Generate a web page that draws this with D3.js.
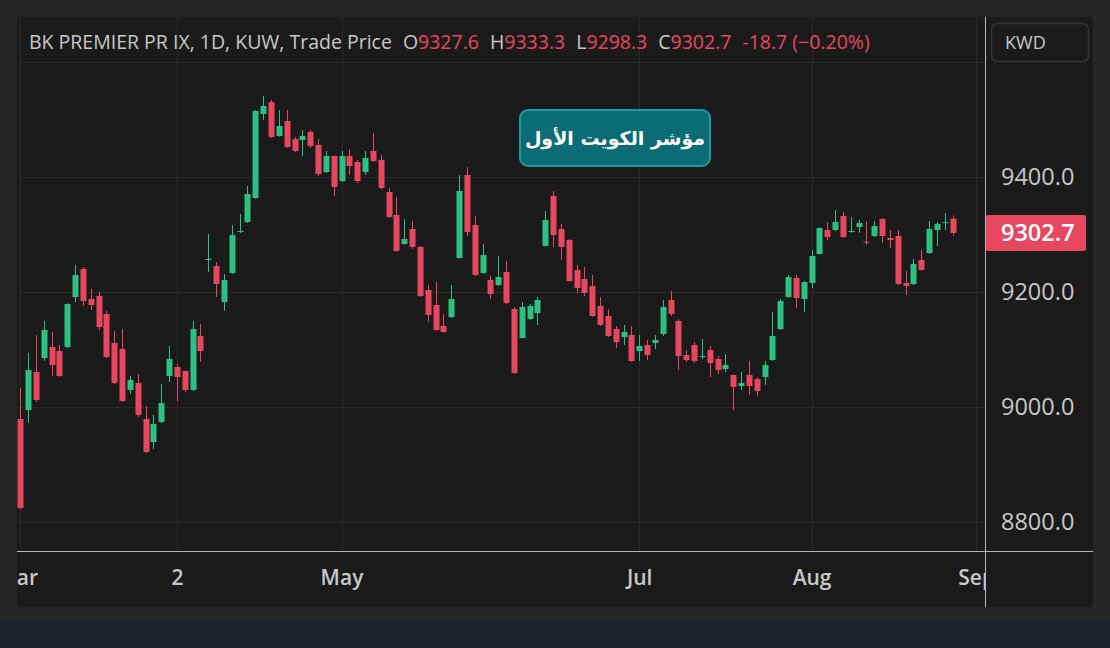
<!DOCTYPE html>
<html>
<head>
<meta charset="utf-8">
<script src="https://cdn.jsdelivr.net/npm/d3@7"></script>
<style>
  html, body { margin: 0; padding: 0; background: #262626; }
  svg { display: block; }
  text { font-family: "Open Sans", "DejaVu Sans", sans-serif; }
</style>
</head>
<body>
<svg id="chart" width="1110" height="648"></svg>
<script>
// daily candles (oldest first)
var opens = [
  8979.1, 8994.8, 9060.9, 9085.2, 9104.3, 9097.4, 9104.3, 9191.3, 9240.0, 9187.8,
  9193.0, 9161.7, 9111.3, 9100.9, 9029.6, 9041.7, 8979.1, 8939.1, 8973.9, 9053.9,
  9069.6, 9062.6, 9029.6, 9123.5, 9256.0, 9245.2, 9182.6, 9233.0, 9305.0, 9321.7,
  9363.5, 9509.6, 9530.4, 9471.3, 9497.4, 9466.1, 9464.3, 9478.3, 9455.7, 9408.7,
  9436.5, 9393.0, 9436.5, 9426.1, 9408.7, 9445.2, 9429.6, 9373.9, 9333.9, 9283.5,
  9309.6, 9278.3, 9203.5, 9177.4, 9140.9, 9156.5, 9259.1, 9403.5, 9316.5, 9233.0,
  9220.9, 9212.2, 9234.8, 9170.4, 9120.0, 9153.0, 9163.5, 9280.0, 9367.0, 9309.6,
  9290.4, 9238.3, 9222.6, 9210.4, 9175.7, 9158.3, 9135.7, 9121.7, 9125.2, 9097.4,
  9107.8, 9111.3, 9127.0, 9186.1, 9149.6, 9090.4, 9107.8, 9087.5, 9099.1, 9083.5,
  9066.1, 9055.7, 9036.5, 9055.7, 9048.7, 9052.2, 9081.7, 9135.7, 9191.3, 9224.3,
  9187.8, 9215.7, 9266.1, 9307.8, 9307.8, 9332.2, 9305.0, 9313.0, 9287.5, 9297.4,
  9327.0, 9293.9, 9297.4, 9215.7, 9213.9, 9255.7, 9267.8, 9307.8, 9320.6, 9327.6
];
var highs = [
  9033.0, 9093.9, 9125.2, 9149.6, 9130.4, 9107.8, 9180.5, 9247.0, 9243.5, 9205.2,
  9200.0, 9167.0, 9132.2, 9135.7, 9053.9, 9057.4, 9001.7, 8986.1, 9040.0, 9106.1,
  9074.8, 9063.5, 9149.6, 9144.3, 9300.9, 9252.2, 9231.3, 9316.5, 9335.7, 9384.3,
  9516.5, 9540.9, 9533.9, 9516.5, 9516.5, 9469.6, 9481.7, 9481.7, 9466.1, 9445.2,
  9437.5, 9445.2, 9448.7, 9429.6, 9445.2, 9476.5, 9438.3, 9380.9, 9365.2, 9327.0,
  9323.5, 9280.0, 9212.2, 9217.4, 9161.7, 9212.2, 9403.5, 9417.4, 9332.2, 9283.5,
  9227.8, 9262.6, 9253.9, 9173.9, 9182.6, 9179.1, 9191.3, 9340.9, 9375.7, 9318.3,
  9292.2, 9247.0, 9243.5, 9229.6, 9191.3, 9170.4, 9140.9, 9142.6, 9140.9, 9125.2,
  9116.5, 9125.2, 9186.1, 9201.7, 9153.0, 9099.1, 9113.0, 9118.3, 9106.1, 9088.7,
  9092.2, 9056.5, 9060.9, 9080.0, 9052.2, 9080.0, 9165.2, 9187.8, 9229.6, 9229.6,
  9219.1, 9273.0, 9312.5, 9321.7, 9342.6, 9339.1, 9330.4, 9325.2, 9323.5, 9323.5,
  9328.0, 9307.8, 9307.8, 9236.5, 9257.4, 9273.0, 9323.5, 9321.7, 9337.4, 9333.3
];
var lows = [
  8822.0, 8972.2, 9008.7, 9080.0, 9053.9, 9052.2, 9103.0, 9182.6, 9175.7, 9168.7,
  9133.9, 9085.5, 9040.0, 9008.7, 9022.6, 8982.6, 8920.0, 8926.9, 8972.0, 9043.5,
  9010.4, 9026.1, 9028.0, 9078.3, 9234.8, 9191.3, 9167.0, 9231.3, 9302.6, 9320.0,
  9362.0, 9499.1, 9468.0, 9470.0, 9450.5, 9443.5, 9436.5, 9450.4, 9401.7, 9407.0,
  9367.0, 9391.0, 9403.5, 9389.6, 9403.5, 9426.0, 9379.0, 9329.0, 9270.0, 9282.0,
  9274.8, 9191.3, 9147.8, 9132.0, 9129.0, 9155.0, 9258.0, 9297.4, 9228.0, 9232.0,
  9187.8, 9211.0, 9179.0, 9058.0, 9119.0, 9151.3, 9142.6, 9279.0, 9278.3, 9255.7,
  9218.0, 9198.3, 9193.0, 9157.0, 9141.0, 9122.0, 9102.6, 9107.8, 9079.0, 9080.0,
  9081.7, 9100.9, 9123.5, 9158.3, 9064.3, 9078.3, 9076.5, 9083.5, 9052.2, 9057.4,
  9060.9, 8994.8, 9029.6, 9020.9, 9019.1, 9038.3, 9080.0, 9134.0, 9190.0, 9172.2,
  9165.2, 9207.0, 9265.0, 9290.4, 9306.0, 9294.0, 9302.6, 9302.6, 9281.7, 9295.7,
  9285.2, 9276.5, 9212.0, 9194.8, 9212.0, 9237.0, 9266.0, 9280.0, 9307.8, 9298.3
];
var closes = [
  8824.3, 9064.3, 9012.2, 9133.9, 9073.0, 9053.9, 9179.1, 9229.6, 9184.3, 9177.4,
  9139.1, 9087.0, 9041.7, 9010.4, 9047.0, 8986.1, 8921.7, 8970.4, 9007.0, 9083.5,
  9052.2, 9029.6, 9135.7, 9097.4, 9257.4, 9213.9, 9220.9, 9299.1, 9306.1, 9370.4,
  9514.8, 9523.5, 9469.6, 9488.7, 9452.2, 9445.2, 9471.3, 9453.9, 9405.2, 9436.5,
  9382.6, 9436.5, 9419.1, 9393.0, 9433.0, 9427.8, 9380.9, 9330.4, 9271.3, 9292.2,
  9278.3, 9193.0, 9160.0, 9133.9, 9130.4, 9187.8, 9375.7, 9304.3, 9229.6, 9264.3,
  9196.5, 9226.1, 9180.9, 9059.1, 9173.9, 9175.7, 9186.1, 9325.2, 9299.1, 9278.3,
  9219.1, 9207.0, 9198.3, 9158.3, 9142.6, 9123.5, 9113.0, 9130.4, 9080.0, 9106.1,
  9090.4, 9116.5, 9173.9, 9161.7, 9088.7, 9081.7, 9080.0, 9088.7, 9076.5, 9064.3,
  9073.0, 9034.8, 9041.7, 9036.5, 9027.8, 9073.0, 9123.5, 9184.3, 9226.1, 9189.6,
  9217.4, 9262.6, 9311.3, 9295.7, 9321.7, 9295.7, 9306.1, 9320.0, 9286.9, 9314.8,
  9297.4, 9290.4, 9213.9, 9210.4, 9248.7, 9238.3, 9309.6, 9318.3, 9321.4, 9302.7
];

// time axis labels sit on bar indices (Sep falls after the last bar)
var timeTickIndex = [0, 20, 41, 79, 101, 122];
var timeTickLabels = ["Mar", "2", "May", "Jul", "Aug", "Sep"];
var priceTicks = [8800, 9000, 9200, 9400];
var priceGrid = [8800, 9000, 9200, 9400, 9600];

var title = "BK PREMIER PR IX, 1D, KUW, Trade Price";
var noteText = "مؤشر الكويت الأول";
var currency = "KWD";

var upColor = "#2dc084",
    downColor = "#e8485f",
    textColor = "#c8c8c8",
    gridColor = "#2a2a2a",
    paneBg = "#1b1b1b";

var svg = d3.select("#chart");
var pane = { left: 17, top: 17, right: 985, bottom: 551 };
var frame = { right: 1093, bottom: 607 };

var bars = opens.map(function(o, i) {
  return { i: i, o: o, h: highs[i], l: lows[i], c: closes[i] };
});
var last = bars[bars.length - 1];
var prev = bars[bars.length - 2];

var x = d3.scaleLinear().domain([0, bars.length - 1]).range([20.3, 952.6]);
var y = d3.scaleLinear().domain([8800, 9400]).range([522, 177]);

// background layers
svg.append("rect").attr("width", 1110).attr("height", 648).attr("fill", "#262626");
svg.append("rect").attr("y", 622).attr("width", 1110).attr("height", 26).attr("fill", "#1e222d");
svg.append("rect")
  .attr("x", 16).attr("y", 16)
  .attr("width", frame.right - 16 + 1).attr("height", frame.bottom - 16 + 1)
  .attr("fill", paneBg).attr("stroke", "#2e2e2e");

svg.append("clipPath").attr("id", "paneClip")
  .append("rect")
  .attr("x", pane.left).attr("y", pane.top)
  .attr("width", pane.right - pane.left).attr("height", pane.bottom - pane.top);

var plot = svg.append("g").attr("clip-path", "url(#paneClip)");

// grid
plot.selectAll(".hgrid").data(priceGrid).enter().append("line")
  .attr("x1", pane.left).attr("x2", pane.right)
  .attr("y1", function(d) { return Math.round(y(d)) + 0.5; })
  .attr("y2", function(d) { return Math.round(y(d)) + 0.5; })
  .attr("stroke", gridColor);
plot.selectAll(".vgrid").data(timeTickIndex).enter().append("line")
  .attr("y1", pane.top).attr("y2", pane.bottom)
  .attr("x1", function(d) { return Math.round(x(d)) + 0.5; })
  .attr("x2", function(d) { return Math.round(x(d)) + 0.5; })
  .attr("stroke", gridColor);

// candles
var bw = 6;
var candle = plot.selectAll(".candle").data(bars).enter().append("g")
  .attr("fill", function(d) { return d.c >= d.o ? upColor : downColor; })
  .attr("stroke", function(d) { return d.c >= d.o ? upColor : downColor; });
candle.append("line")
  .attr("x1", function(d) { return Math.round(x(d.i)) + 0.5; })
  .attr("x2", function(d) { return Math.round(x(d.i)) + 0.5; })
  .attr("y1", function(d) { return y(d.h); })
  .attr("y2", function(d) { return y(d.l); })
  .attr("stroke-width", 1);
candle.append("rect")
  .attr("x", function(d) { return Math.round(x(d.i)) - bw / 2 + 0.5; })
  .attr("y", function(d) { return y(Math.max(d.o, d.c)); })
  .attr("width", bw)
  .attr("height", function(d) { return Math.max(1, Math.abs(y(d.o) - y(d.c))); })
  .attr("stroke", "none");

// time axis
svg.append("clipPath").attr("id", "timeClip")
  .append("rect").attr("x", pane.left).attr("y", 0)
  .attr("width", pane.right - pane.left).attr("height", 60);
var xAxis = d3.axisBottom(x)
  .tickValues(timeTickIndex)
  .tickFormat(function(d, i) { return timeTickLabels[i]; })
  .tickSize(0).tickPadding(19);
var xg = svg.append("g")
  .attr("clip-path", "url(#timeClip)")
  .attr("transform", "translate(0," + pane.bottom + ")")
  .call(xAxis);
xg.select(".domain").remove();
xg.selectAll("text")
  .attr("fill", textColor).style("font-size", "21px").style("font-weight", "600")
  .style("font-family", "'Open Sans', sans-serif");
// first label is cut by the pane edge, as in the original
xg.selectAll("text").filter(function(d, i) { return i === 0; }).attr("dx", -3);

// price axis
var yAxis = d3.axisRight(y)
  .tickValues(priceTicks)
  .tickFormat(d3.format(".1f"))
  .tickSize(0).tickPadding(16);
var yg = svg.append("g")
  .attr("transform", "translate(" + pane.right + ",0)")
  .call(yAxis);
yg.select(".domain").remove();
yg.selectAll("text")
  .attr("fill", textColor).style("font-size", "23.5px")
  .style("font-family", "'Open Sans', sans-serif");

// axis border lines
svg.append("line")
  .attr("x1", pane.left).attr("x2", frame.right)
  .attr("y1", pane.bottom + 0.5).attr("y2", pane.bottom + 0.5)
  .attr("stroke", "#b8b8b8");
svg.append("line")
  .attr("x1", pane.right + 0.5).attr("x2", pane.right + 0.5)
  .attr("y1", pane.top).attr("y2", frame.bottom)
  .attr("stroke", "#b8b8b8");

// last price label
var lastY = y(last.c);
svg.append("rect")
  .attr("x", pane.right + 1).attr("y", lastY - 18)
  .attr("width", 100).attr("height", 36).attr("rx", 2)
  .attr("fill", last.c >= prev.c ? upColor : downColor);
svg.append("text")
  .attr("x", pane.right + 16).attr("y", lastY)
  .attr("dy", "0.36em")
  .attr("fill", "#ffffff")
  .style("font-size", "23.5px").style("font-weight", "600")
  .text(d3.format(".1f")(last.c));

// currency box
svg.append("rect")
  .attr("x", 991.5).attr("y", 23.5).attr("width", 97).attr("height", 38).attr("rx", 6)
  .attr("fill", "none").attr("stroke", "#363636").attr("stroke-width", 1.5);
svg.append("text")
  .attr("x", 1005).attr("y", 49)
  .attr("fill", textColor).style("font-size", "18px")
  .text(currency);

// legend line
var chg = last.c - prev.c;
var valColor = last.c >= prev.c ? upColor : downColor;
var fmt = d3.format(".1f");
var legend = svg.append("text")
  .attr("x", 29).attr("y", 49)
  .style("font-size", "19.5px")
  .attr("fill", textColor);
legend.append("tspan").text(title);
[["O", last.o], ["H", last.h], ["L", last.l], ["C", last.c]].forEach(function(p, k) {
  legend.append("tspan").attr("dx", 11).text(p[0]);
  legend.append("tspan").attr("fill", valColor).text(fmt(p[1]));
});
legend.append("tspan").attr("dx", 11).attr("fill", valColor)
  .text(fmt(chg).replace("\u2212", "-") + " (" + d3.format(".2f")(chg / prev.c * 100) + "%)");

// note badge
var note = svg.append("g");
note.append("rect")
  .attr("x", 520).attr("y", 110).attr("width", 190).attr("height", 56).attr("rx", 8)
  .attr("fill", "#0b6c75").attr("stroke", "#1c9aa3").attr("stroke-width", 2);
note.append("text")
  .attr("x", 615).attr("y", 138).attr("dy", "0.35em")
  .attr("text-anchor", "middle")
  .attr("fill", "#ffffff")
  .style("font-family", "'DejaVu Sans', sans-serif")
  .style("font-size", "19px").style("font-weight", "bold")
  .text(noteText);
</script>
</body>
</html>
